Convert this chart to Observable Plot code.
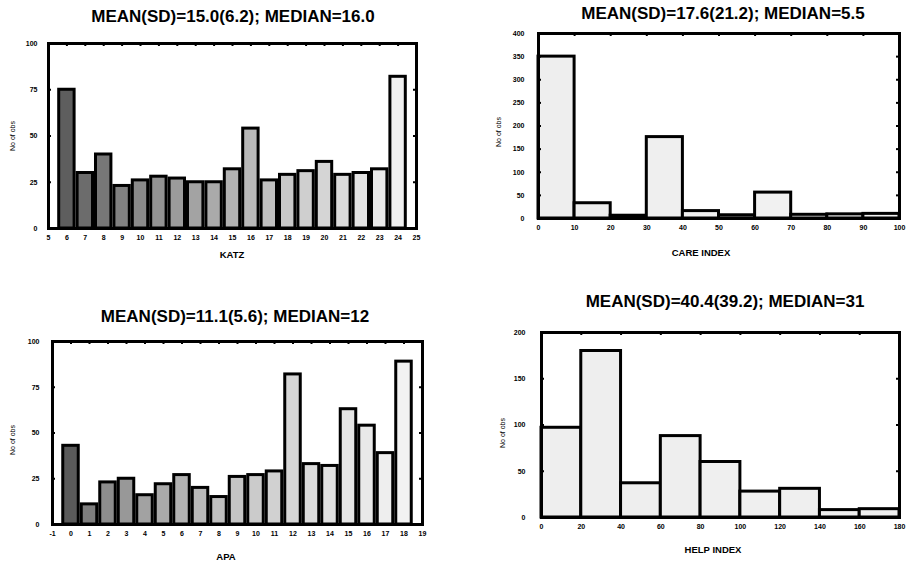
<!DOCTYPE html>
<html>
<head>
<meta charset="utf-8">
<script src="https://cdn.jsdelivr.net/npm/d3@7"></script>
<script src="https://cdn.jsdelivr.net/npm/@observablehq/plot@0.6"></script>
<style>
  html, body { margin: 0; padding: 0; background: #fff; }
  #page { position: relative; width: 907px; height: 563px; overflow: hidden; background: #fff;
          font-family: "Liberation Sans", Arial, sans-serif; }
  .title { position: absolute; font-weight: bold; font-size: 17px; white-space: nowrap; transform: translate(-50%, -50%); color: #000; }
  .xlab { position: absolute; font-weight: bold; font-size: 9.5px; white-space: nowrap; transform: translate(-50%, -50%);
          font-family: "Liberation Sans Narrow", "Liberation Sans", Arial, sans-serif; }
  .ylab { position: absolute; font-size: 7px; white-space: nowrap; transform: translate(-50%, -50%) rotate(-90deg);
          font-family: "Liberation Sans Narrow", "Liberation Sans", Arial, sans-serif; }
  .panel { position: absolute; }
</style>
</head>
<body>
<div id="page"></div>
<script>
// ---------- DATA ----------
const katzTitle = "MEAN(SD)=15.0(6.2); MEDIAN=16.0";
const katzScore = [6, 7, 8, 9, 10, 11, 12, 13, 14, 15, 16, 17, 18, 19, 20, 21, 22, 23, 24];
const katzCount = [75, 30, 40, 23, 26, 28, 27, 25, 25, 32, 54, 26, 29, 31, 36, 29, 30, 32, 82];
const katzXTicks = [5, 6, 7, 8, 9, 10, 11, 12, 13, 14, 15, 16, 17, 18, 19, 20, 21, 22, 23, 24, 25];
const katzYTicks = [0, 25, 50, 75, 100];

const careTitle = "MEAN(SD)=17.6(21.2); MEDIAN=5.5";
const careBinStart = [0, 10, 20, 30, 40, 50, 60, 70, 80, 90];
const careCount = [350, 33, 6, 176, 16, 7, 56, 8, 9, 10];
const careXTicks = [0, 10, 20, 30, 40, 50, 60, 70, 80, 90, 100];
const careYTicks = [0, 50, 100, 150, 200, 250, 300, 350, 400];

const apaTitle = "MEAN(SD)=11.1(5.6); MEDIAN=12";
const apaScore = [0, 1, 2, 3, 4, 5, 6, 7, 8, 9, 10, 11, 12, 13, 14, 15, 16, 17, 18];
const apaCount = [43, 11, 23, 25, 16, 22, 27, 20, 15, 26, 27, 29, 82, 33, 32, 63, 54, 39, 89];
const apaXTicks = [-1, 0, 1, 2, 3, 4, 5, 6, 7, 8, 9, 10, 11, 12, 13, 14, 15, 16, 17, 18, 19];
const apaYTicks = [0, 25, 50, 75, 100];

const helpTitle = "MEAN(SD)=40.4(39.2); MEDIAN=31";
const helpBinStart = [0, 20, 40, 60, 80, 100, 120, 140, 160];
const helpCount = [97, 180, 37, 88, 60, 28, 31, 8, 9];
const helpXTicks = [0, 20, 40, 60, 80, 100, 120, 140, 160, 180];
const helpYTicks = [0, 50, 100, 150, 200];

const yLabel = "No of obs";

// ---------- DRAWING ----------
const page = document.getElementById("page");

function addText(cls, text, x, y) {
  const d = document.createElement("div");
  d.className = cls;
  d.textContent = text;
  d.style.left = x + "px";
  d.style.top = y + "px";
  page.appendChild(d);
}

function panel(cfg) {
  const rows = cfg.lo.map((lo, i) => ({lo, hi: cfg.hi[i], count: cfg.count[i], i}));
  const n = rows.length;
  const shade = d3.interpolateRgb(cfg.dark, cfg.light);
  const plotW = cfg.width - cfg.marginLeft - cfg.marginRight;
  const plotH = cfg.height - cfg.marginTop - cfg.marginBottom;
  const svg = Plot.plot({
    width: cfg.width,
    height: cfg.height,
    marginLeft: cfg.marginLeft,
    marginRight: cfg.marginRight,
    marginTop: cfg.marginTop,
    marginBottom: cfg.marginBottom,
    style: {fontFamily: "'Liberation Sans Narrow', 'Liberation Sans', Arial, sans-serif", fontSize: "7px", fontWeight: "bold", background: "white", color: "black"},
    x: {domain: cfg.xDomain},
    y: {domain: cfg.yDomain},
    marks: [
      Plot.rect(rows, {
        x1: "lo", x2: "hi", y1: 0, y2: "count",
        insetLeft: cfg.inset, insetRight: cfg.inset,
        fill: d => shade(Math.pow(d.i / Math.max(1, n - 1), cfg.gamma)),
        stroke: "black", strokeWidth: 3
      }),
      Plot.frame({stroke: "black", strokeWidth: 3}),
      Plot.tickX(cfg.xTicks, {x: d => d, insetBottom: plotH - 3, stroke: "black", strokeWidth: 2}),
      Plot.tickY(cfg.yTicks, {y: d => d, insetLeft: plotW - 3, stroke: "black", strokeWidth: 2}),
      Plot.tickY(cfg.yTicks, {y: d => d, insetRight: plotW - 3, stroke: "black", strokeWidth: 2}),
      Plot.axisX(cfg.xTicks, {tickSize: 0, tickPadding: cfg.xPad, label: null, tickFormat: d => String(d), fill: "black"}),
      Plot.axisY(cfg.yTicks, {tickSize: 0, tickPadding: cfg.yPad, label: null, tickFormat: d => String(d), fill: "black"})
    ]
  });
  svg.classList.add("panel");
  svg.style.left = cfg.left + "px";
  svg.style.top = cfg.top + "px";
  page.appendChild(svg);
  addText("title", cfg.title, cfg.titleX, cfg.titleY);
  addText("xlab", cfg.xLabel, cfg.xLabX, cfg.xLabY);
  addText("ylab", yLabel, cfg.yLabX, cfg.yLabY);
}

// KATZ
panel({
  title: katzTitle, titleX: 233, titleY: 17,
  xLabel: "KATZ", xLabX: 232, xLabY: 254,
  yLabX: 12, yLabY: 136,
  left: 0, top: 30, width: 440, height: 215,
  marginLeft: 48, marginRight: 24, marginTop: 13, marginBottom: 17,
  xDomain: [5, 25], yDomain: [0, 100],
  lo: katzScore.map(s => s - 0.5), hi: katzScore.map(s => s + 0.5), count: katzCount,
  inset: 1.5, dark: "#5e5e5e", light: "#f0f0f0", gamma: 0.8,
  xTicks: katzXTicks, yTicks: katzYTicks, xPad: 7, yPad: 11
});

// CARE INDEX
panel({
  title: careTitle, titleX: 723, titleY: 14,
  xLabel: "CARE INDEX", xLabX: 701, xLabY: 252,
  yLabX: 498, yLabY: 132,
  left: 470, top: 20, width: 437, height: 215,
  marginLeft: 68, marginRight: 8, marginTop: 13, marginBottom: 17,
  xDomain: [0, 100], yDomain: [0, 400],
  lo: careBinStart, hi: careBinStart.map(s => s + 10), count: careCount,
  inset: 0, dark: "#eeeeee", light: "#f2f2f2", gamma: 1,
  xTicks: careXTicks, yTicks: careYTicks, xPad: 7, yPad: 14
});

// APA
panel({
  title: apaTitle, titleX: 235, titleY: 317,
  xLabel: "APA", xLabX: 226, xLabY: 556,
  yLabX: 12, yLabY: 440,
  left: 0, top: 328, width: 440, height: 215,
  marginLeft: 52, marginRight: 18, marginTop: 13, marginBottom: 19,
  xDomain: [-1, 19], yDomain: [0, 100],
  lo: apaScore.map(s => s - 0.5), hi: apaScore.map(s => s + 0.5), count: apaCount,
  inset: 1.5, dark: "#5a5a5a", light: "#f2f2f2", gamma: 0.5,
  xTicks: apaXTicks, yTicks: apaYTicks, xPad: 7, yPad: 13
});

// HELP INDEX
panel({
  title: helpTitle, titleX: 725, titleY: 302,
  xLabel: "HELP INDEX", xLabX: 713, xLabY: 549,
  yLabX: 502, yLabY: 433,
  left: 470, top: 320, width: 437, height: 215,
  marginLeft: 71, marginRight: 8, marginTop: 12, marginBottom: 18,
  xDomain: [0, 180], yDomain: [0, 200],
  lo: helpBinStart, hi: helpBinStart.map(s => s + 20), count: helpCount,
  inset: 0, dark: "#eeeeee", light: "#efefef", gamma: 1,
  xTicks: helpXTicks, yTicks: helpYTicks, xPad: 7, yPad: 16
});
</script>
</body>
</html>
